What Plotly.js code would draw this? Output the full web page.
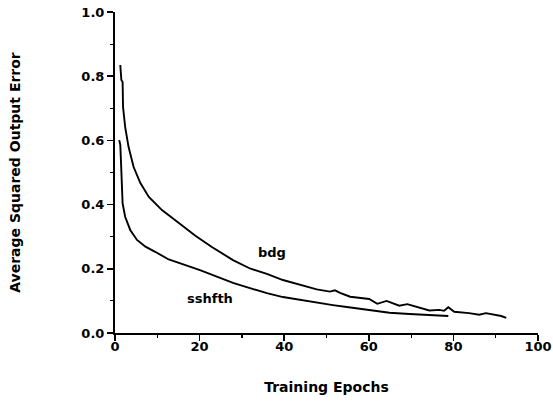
<!DOCTYPE html>
<html>
<head>
<meta charset="utf-8">
<script src="https://cdn.plot.ly/plotly-3.0.1.min.js"></script>
<style>html,body{margin:0;padding:0;background:#fff;}#chart{width:553px;height:401px;}</style>
</head>
<body>
<div id="chart"></div>
<script>
var bdgEpochs = [1.25, 1.5, 1.8, 1.9, 2.4, 3.2, 4.4, 6.0, 8.0, 11.1, 15.1, 19.0, 22.9, 24.0, 27.9, 31.9, 35.9, 39.7, 43.7, 47.7, 50.8, 52.0, 53.2, 55.6, 60.1, 62.0, 64.2, 67.2, 69.1, 71.9, 74.3, 76.7, 77.8, 78.8, 80.2, 83.7, 86.1, 87.7, 90.1, 91.3, 92.5];
var bdgError  = [0.835, 0.788, 0.782, 0.704, 0.642, 0.580, 0.517, 0.467, 0.424, 0.383, 0.343, 0.303, 0.268, 0.259, 0.227, 0.201, 0.184, 0.165, 0.150, 0.136, 0.129, 0.133, 0.125, 0.113, 0.106, 0.091, 0.100, 0.085, 0.090, 0.078, 0.070, 0.072, 0.069, 0.080, 0.066, 0.062, 0.057, 0.062, 0.056, 0.053, 0.047];
var sshfthEpochs = [1.0, 1.25, 1.4, 1.65, 1.8, 2.4, 3.6, 5.2, 7.2, 9.5, 12.7, 20.1, 24.0, 27.9, 31.9, 35.9, 39.7, 43.7, 47.7, 51.5, 54.8, 60.1, 64.9, 69.6, 74.3, 78.8];
var sshfthError  = [0.601, 0.586, 0.539, 0.456, 0.404, 0.362, 0.321, 0.290, 0.269, 0.253, 0.229, 0.196, 0.175, 0.156, 0.140, 0.124, 0.112, 0.103, 0.094, 0.087, 0.081, 0.072, 0.063, 0.059, 0.056, 0.053];
var seriesNames = ["bdg", "sshfth"];
var labelPos = {bdg: [37.1, 0.252], sshfth: [22.5, 0.109]};
var xTicks = [0, 20, 40, 60, 80, 100];
var yTicks = [0, 0.2, 0.4, 0.6, 0.8, 1.0];
var yTickText = ["0.0", "0.2", "0.4", "0.6", "0.8", "1.0"];

var FONT = "DejaVu Sans, Verdana, sans-serif";
var lineStyle = {color: "#000", width: 1.9, shape: "linear"};
var traces = [
  {x: bdgEpochs, y: bdgError, mode: "lines", name: seriesNames[0], line: lineStyle, hoverinfo: "skip"},
  {x: sshfthEpochs, y: sshfthError, mode: "lines", name: seriesNames[1], line: lineStyle, hoverinfo: "skip"}
];
var tickFont = {family: FONT, size: 13, color: "#000", weight: "bold"};
var titleFont = {family: FONT, size: 14, color: "#000", weight: "bold"};
var layout = {
  width: 553, height: 401,
  margin: {l: 115, r: 15, t: 12, b: 68},
  paper_bgcolor: "#fff", plot_bgcolor: "#fff",
  showlegend: false,
  xaxis: {
    range: [0, 100], tickvals: xTicks, ticktext: xTicks.map(String),
    showgrid: false, zeroline: false, showline: true, linecolor: "#000", linewidth: 2,
    ticks: "outside", ticklen: 6, tickwidth: 1.5, tickcolor: "#000", ticklabelstandoff: -6,
    minor: {dtick: 10, ticks: "outside", ticklen: 3, tickwidth: 1.2, tickcolor: "#000", showgrid: false},
    tickfont: tickFont, automargin: false,
    title: {text: "Training Epochs", font: titleFont, standoff: 30}
  },
  yaxis: {
    range: [0, 1], tickvals: yTicks, ticktext: yTickText,
    showgrid: false, zeroline: false, showline: true, linecolor: "#000", linewidth: 2,
    ticks: "outside", ticklen: 6, tickwidth: 1.5, tickcolor: "#000",
    minor: {dtick: 0.1, ticks: "outside", ticklen: 3, tickwidth: 1.2, tickcolor: "#000", showgrid: false},
    tickfont: tickFont, automargin: false,
    title: {text: "Average Squared Output Error", font: titleFont, standoff: 57}
  },
  annotations: seriesNames.map(function (n) {
    return {x: labelPos[n][0], y: labelPos[n][1], xref: "x", yref: "y", text: n,
      showarrow: false, font: {family: FONT, size: 13, color: "#000", weight: "bold"}};
  })
};
Plotly.newPlot("chart", traces, layout, {staticPlot: true, displayModeBar: false});
</script>
</body>
</html>
